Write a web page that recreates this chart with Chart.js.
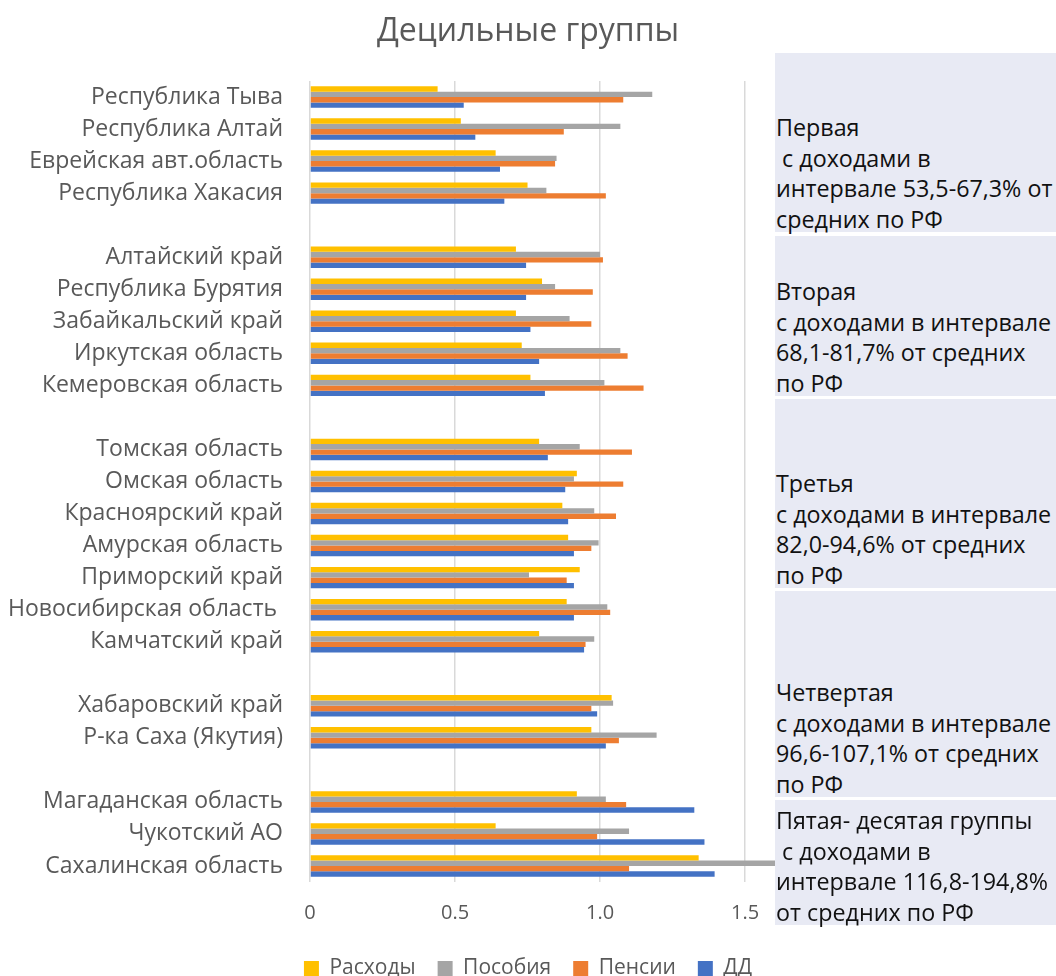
<!DOCTYPE html>
<html lang="ru">
<head>
<meta charset="utf-8">
<script src="https://cdn.jsdelivr.net/npm/chart.js@4.4.1/dist/chart.umd.min.js"></script>
<style>
  html, body { margin: 0; padding: 0; background: #fff; overflow: hidden; }
  #wrap { position: relative; width: 1056px; height: 976px; overflow: hidden; }
  #chart { position: absolute; left: 0; top: 0; }
  #cover { position: absolute; left: 775px; top: 53px; width: 281px; height: 872px; background: #fff; }
  .note {
    position: absolute; left: 775px; width: 281px;
    background: #E8EAF4; color: #111;
    font-family: 'Open Sans', sans-serif; font-size: 23.3px; line-height: 30.5px;
    white-space: pre; box-sizing: border-box; padding-left: 1px;
    display: flex; flex-direction: column; justify-content: flex-end;
  }
  .note div { transform: translateY(2px); }
</style>
</head>
<body>
<div id="wrap">
  <canvas id="chart" width="1056" height="989"></canvas>
  <div id="cover"></div>
  <div class="note" style="top:53px;height:179px"><div>Первая
 с доходами в
интервале 53,5-67,3% от
средних по РФ</div></div>
  <div class="note" style="top:236px;height:160px"><div>Вторая
с доходами в интервале
68,1-81,7% от средних
по РФ</div></div>
  <div class="note" style="top:399px;height:189px"><div>Третья
с доходами в интервале
82,0-94,6% от средних
по РФ</div></div>
  <div class="note" style="top:591px;height:206px"><div>Четвертая
с доходами в интервале
96,6-107,1% от средних
по РФ</div></div>
  <div class="note" style="top:800px;height:125px"><div>Пятая- десятая группы
 с доходами в
интервале 116,8-194,8%
от средних по РФ</div></div>
</div>
<script>
// регионы, пустые строки - промежутки между децильными группами
const categories = [
  'Республика Тыва', 'Республика Алтай', 'Еврейская авт.область', 'Республика Хакасия', '',
  'Алтайский край', 'Республика Бурятия', 'Забайкальский край', 'Иркутская область', 'Кемеровская область', '',
  'Томская область', 'Омская область', 'Красноярский край', 'Амурская область', 'Приморский край', 'Новосибирская область ', 'Камчатский край', '',
  'Хабаровский край', 'Р-ка Саха (Якутия)', '',
  'Магаданская область', 'Чукотский АО', 'Сахалинская область'
];

const rashody = [
  0.44, 0.52, 0.64, 0.75, null,
  0.71, 0.80, 0.71, 0.73, 0.76, null,
  0.79, 0.92, 0.87, 0.89, 0.93, 0.885, 0.79, null,
  1.04, 0.97, null,
  0.92, 0.64, 1.34
];
const posobiya = [
  1.18, 1.07, 0.85, 0.815, null,
  1.00, 0.845, 0.895, 1.07, 1.015, null,
  0.93, 0.91, 0.98, 0.995, 0.755, 1.025, 0.98, null,
  1.045, 1.195, null,
  1.02, 1.10, 1.70
];
const pensii = [
  1.08, 0.875, 0.845, 1.02, null,
  1.01, 0.975, 0.97, 1.095, 1.15, null,
  1.11, 1.08, 1.055, 0.97, 0.885, 1.035, 0.95, null,
  0.97, 1.065, null,
  1.09, 0.99, 1.10
];
const dd = [
  0.53, 0.57, 0.655, 0.67, null,
  0.745, 0.745, 0.76, 0.79, 0.81, null,
  0.82, 0.88, 0.89, 0.91, 0.91, 0.91, 0.945, null,
  0.99, 1.02, null,
  1.325, 1.36, 1.395
];

// ось идет дальше 1.5, но правая часть закрыта подписями групп
const xTicks = { min: 0, max: 2.572, step: 0.5 };

const font = "'Open Sans', sans-serif";
const gray = '#595959';

new Chart(document.getElementById('chart'), {
  type: 'bar',
  data: {
    labels: categories,
    datasets: [
      { label: 'Расходы', data: rashody, backgroundColor: '#FFC000' },
      { label: 'Пособия', data: posobiya, backgroundColor: '#A5A5A5' },
      { label: 'Пенсии', data: pensii, backgroundColor: '#ED7D31' },
      { label: 'ДД', data: dd, backgroundColor: '#4472C4' }
    ]
  },
  options: {
    indexAxis: 'y',
    responsive: false,
    animation: false,
    locale: 'en-US',
    barPercentage: 1,
    categoryPercentage: 0.67,
    layout: { padding: 0 },
    plugins: {
      title: {
        display: true,
        text: 'Децильные группы',
        color: gray,
        font: { family: font, size: 32, weight: 'normal' },
        padding: { top: 13, bottom: 29.6 }
      },
      legend: {
        position: 'bottom',
        labels: {
          color: gray,
          font: { family: font, size: 21 },
          boxWidth: 15,
          boxHeight: 15,
          padding: 22
        }
      },
      tooltip: { enabled: false }
    },
    scales: {
      x: {
        min: xTicks.min,
        max: xTicks.max,
        border: { display: false },
        grid: { color: '#D9D9D9', lineWidth: 1.5, drawTicks: false },
        ticks: {
          stepSize: xTicks.step,
          includeBounds: false,
          color: gray,
          font: { family: font, size: 20 },
          padding: 19
        },
        afterFit: function(scale) {
          scale.height = 54
          scale.paddingRight = 0
        }
      },
      y: {
        border: { display: false },
        grid: { display: false },
        ticks: {
          autoSkip: false,
          color: gray,
          font: { family: font, size: 23 },
          padding: 19
        },
        afterFit: function(scale) { scale.width = 310 }
      }
    }
  }
});
</script>
</body>
</html>
